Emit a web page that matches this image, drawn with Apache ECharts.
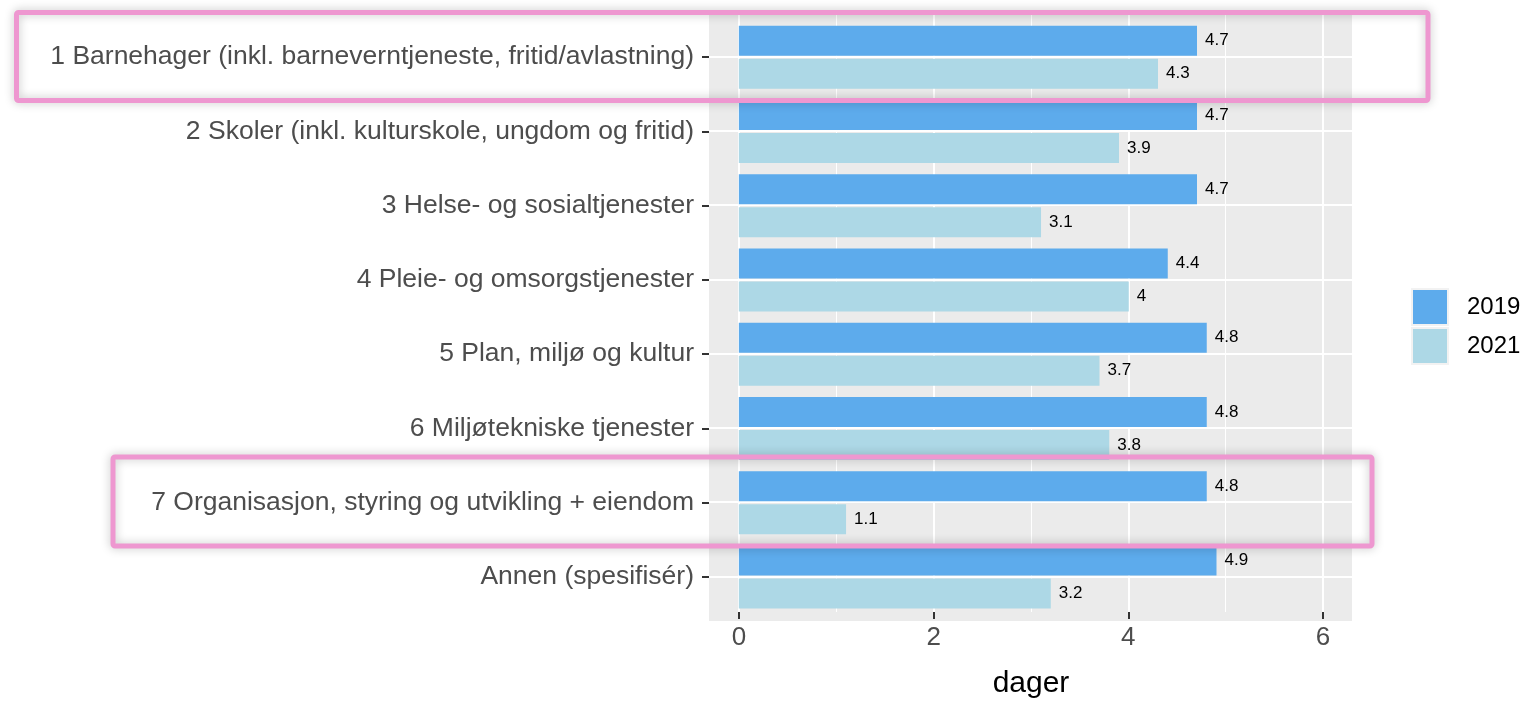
<!DOCTYPE html>
<html>
<head>
<meta charset="utf-8">
<script src="https://cdn.jsdelivr.net/npm/echarts@6/dist/echarts.min.js"></script>
<style>
  html, body { margin: 0; padding: 0; background: #fff; }
  #chart { width: 1523px; height: 704px; }
</style>
</head>
<body>
<div id="chart"></div>
<script>
// data
const categories = [
  '1 Barnehager (inkl. barneverntjeneste, fritid/avlastning)',
  '2 Skoler (inkl. kulturskole, ungdom og fritid)',
  '3 Helse- og sosialtjenester',
  '4 Pleie- og omsorgstjenester',
  '5 Plan, miljø og kultur',
  '6 Miljøtekniske tjenester',
  '7 Organisasjon, styring og utvikling + eiendom',
  'Annen (spesifisér)'
];
const values2019 = [4.7, 4.7, 4.7, 4.4, 4.8, 4.8, 4.8, 4.9];
const values2021 = [4.3, 3.9, 3.1, 4.0, 3.7, 3.8, 1.1, 3.2];
const seriesNames = ['2019', '2021'];

const FONT = 'Liberation Sans, Arial, sans-serif';
// panel spans a bit beyond 0..6 (ggplot expansion)
const xMin = -0.306, xMax = 6.29;

const chart = echarts.init(document.getElementById('chart'));

const barLabel = {
  show: true,
  position: 'right',
  distance: 8,
  fontSize: 17,
  color: '#000',
  fontFamily: FONT
};

// pink highlight boxes (annotation, not data)
const highlight = (x, y, w, h) => ({
  type: 'rect',
  z: 100,
  shape: { x: x, y: y, width: w, height: h, r: 2 },
  style: {
    fill: 'none',
    stroke: '#EE97D0',
    lineWidth: 5,
    shadowBlur: 10,
    shadowColor: 'rgba(0,0,0,0.25)'
  }
});

const hiddenValueAxis = (gridIndex, extra) => Object.assign({
  gridIndex: gridIndex, type: 'value',
  axisLine: { show: false, onZero: false }, axisTick: { show: false },
  axisLabel: { show: false }, splitLine: { show: false }
}, extra);

chart.setOption({
  animation: false,
  textStyle: { fontFamily: FONT },
  grid: [
    // 0: panel background + horizontal gridlines
    { left: 709, right: 171, top: 12, bottom: 83, show: true, backgroundColor: '#EBEBEB', borderWidth: 0 },
    // 1: x scale 0..6 (vertical gridlines, ticks, labels)
    { left: 739, right: 200, top: 12, bottom: 83 },
    // 2: bars
    { left: 709, right: 171, top: 20, bottom: 90 }
  ],
  xAxis: [
    hiddenValueAxis(0, { min: 0, max: 1 }),
    {
      gridIndex: 1, type: 'value', min: 0, max: 6, interval: 2,
      axisLine: { show: false, onZero: false },
      axisTick: { show: true, length: 7, lineStyle: { color: '#333', width: 2 } },
      axisLabel: { fontSize: 26, color: '#4D4D4D', margin: 13, fontFamily: FONT },
      splitLine: { show: true, lineStyle: { color: '#fff', width: 2 } },
      name: 'dager', nameLocation: 'middle', nameGap: 57,
      nameTextStyle: { fontSize: 30, color: '#000', fontFamily: FONT }
    },
    {
      gridIndex: 1, type: 'value', min: 0, max: 6, interval: 1,
      axisLine: { show: false, onZero: false }, axisTick: { show: false }, axisLabel: { show: false },
      splitLine: { show: true, lineStyle: { color: '#fff', width: 1 } }
    },
    hiddenValueAxis(2, { min: xMin, max: xMax })
  ],
  yAxis: [
    {
      // horizontal gridlines at category centres, panel expanded 0.6 band each side
      gridIndex: 0, type: 'value', inverse: true, min: 0.4, max: 8.6,
      minInterval: 1, maxInterval: 1,
      axisLine: { show: false, onZero: false }, axisTick: { show: false }, axisLabel: { show: false },
      splitLine: { show: true, showMinLine: false, showMaxLine: false, lineStyle: { color: '#fff', width: 2 } }
    },
    hiddenValueAxis(1, { min: 0, max: 1 }),
    {
      gridIndex: 2, type: 'category', inverse: true, data: categories,
      axisLine: { show: false, onZero: false },
      axisTick: { show: true, alignWithLabel: true, length: 7, lineStyle: { color: '#333', width: 2 } },
      axisLabel: { fontSize: 26.5, color: '#4D4D4D', margin: 15, fontFamily: FONT },
      splitLine: { show: false }
    }
  ],
  legend: {
    orient: 'vertical',
    left: 1411,
    top: 288,
    padding: 0,
    icon: 'rect',
    itemWidth: 36,
    itemHeight: 36,
    itemGap: 1,
    itemStyle: { borderColor: '#F2F2F2', borderWidth: 2 },
    textStyle: { fontSize: 24, color: '#000', fontFamily: FONT, padding: [0, 0, 0, 14] },
    data: seriesNames
  },
  series: [
    {
      name: seriesNames[0], type: 'bar', xAxisIndex: 3, yAxisIndex: 2,
      barWidth: 30, barGap: '10%',
      itemStyle: { color: '#5DABEC' },
      label: barLabel,
      data: values2019
    },
    {
      name: seriesNames[1], type: 'bar', xAxisIndex: 3, yAxisIndex: 2,
      barWidth: 30, barGap: '10%',
      itemStyle: { color: '#ADD8E6' },
      label: barLabel,
      data: values2021
    }
  ],
  graphic: [
    highlight(16.5, 12.5, 1411.5, 88),
    highlight(113, 457, 1259, 89)
  ]
});
</script>
</body>
</html>
